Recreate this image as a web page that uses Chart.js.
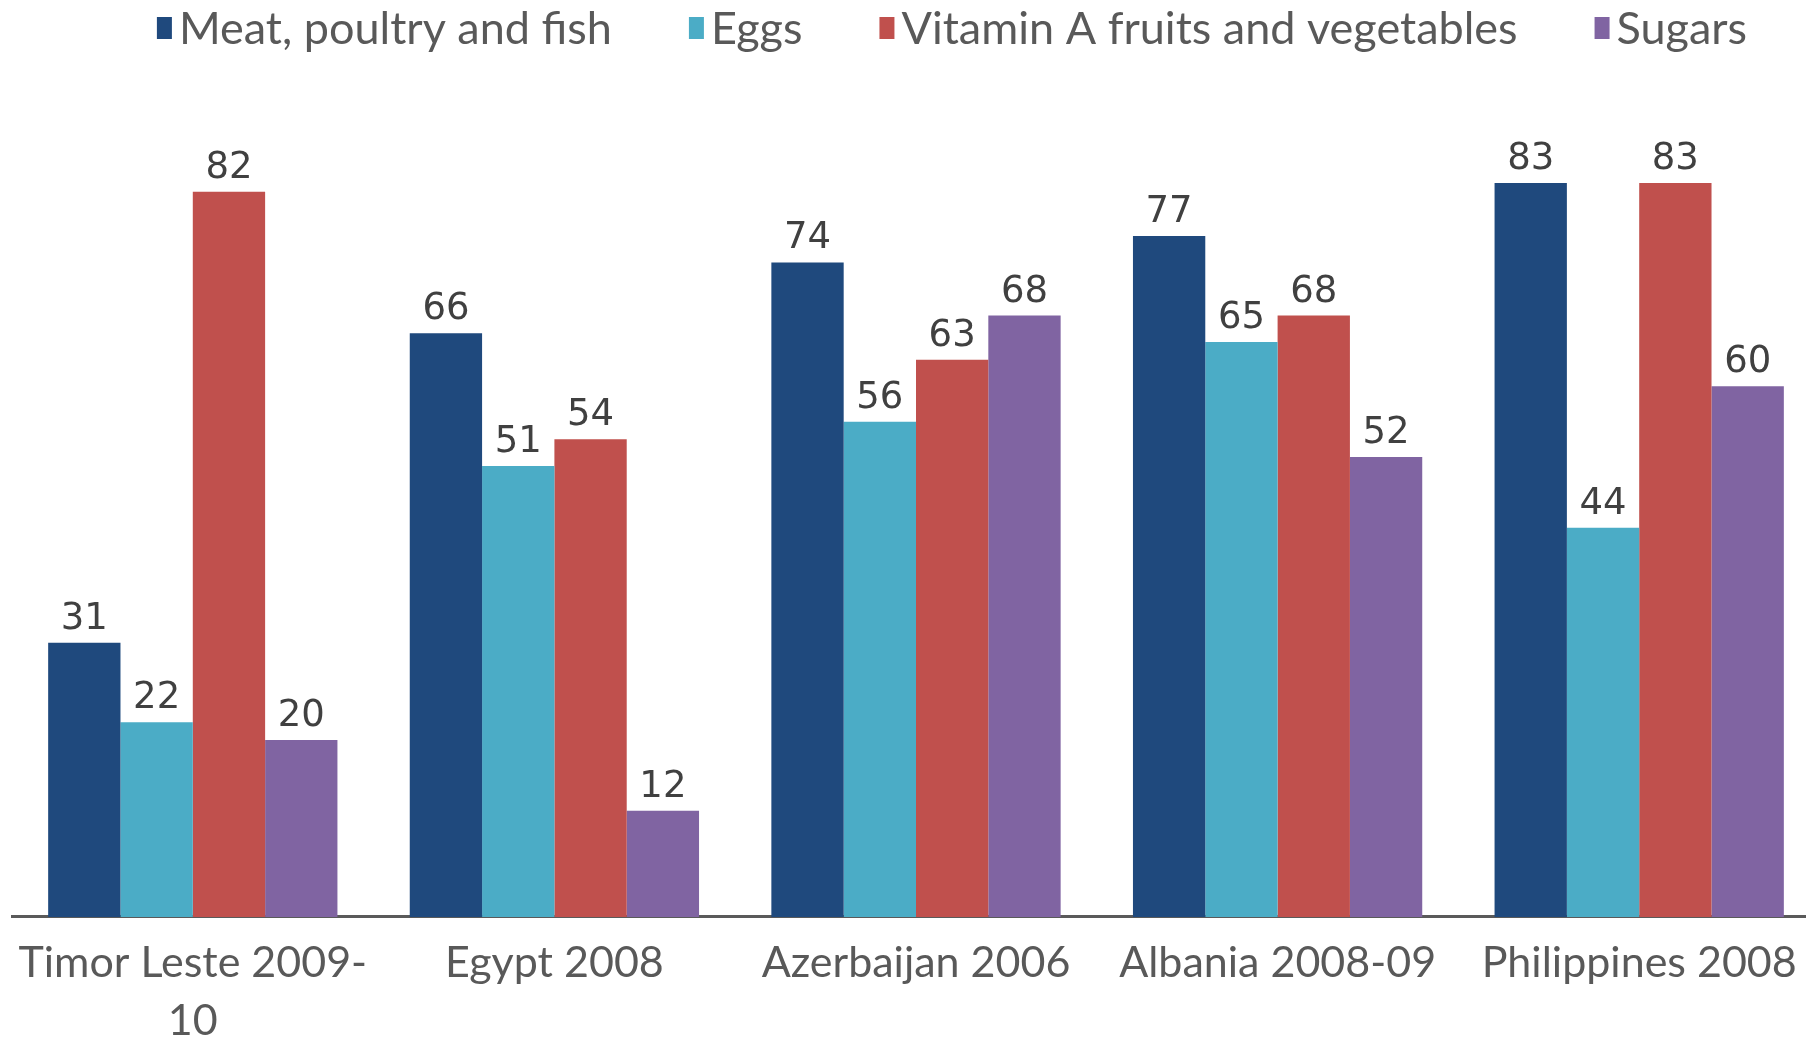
<!DOCTYPE html>
<html>
<head>
<meta charset="utf-8">
<script src="https://cdn.jsdelivr.net/npm/chart.js@4/dist/chart.umd.min.js"></script>
<style>
  html, body { margin: 0; padding: 0; background: #fff; overflow: hidden; }
</style>
</head>
<body>
<canvas id="bar-chart" width="1820" height="1067"></canvas>
<script>
const countries = [['Timor Leste 2009-', '10'], 'Egypt 2008', 'Azerbaijan 2006', 'Albania 2008-09', 'Philippines 2008']
const seriesNames = ['Meat, poultry and fish', 'Eggs', 'Vitamin A fruits and vegetables', 'Sugars']
const meat = [31, 66, 74, 77, 83]
const eggs = [22, 51, 56, 65, 44]
const vitaminA = [82, 54, 63, 68, 83]
const sugars = [20, 12, 68, 52, 60]
const colors = ['#1F497D', '#4BACC6', '#C0504D', '#8064A2']

const textColor = '#595959'
const labelFont = 'Lato'

// legend drawn by hand so the box-to-text gap matches the original
const topLegend = {
  id: 'topLegend',
  afterDraw (chart) {
    const ctx = chart.ctx
    const boxW = 15
    const boxH = 22
    const gap = 7
    const spacing = 77
    const centerX = 952
    const y = 28
    ctx.save()
    ctx.font = `45px ${labelFont}`
    ctx.textBaseline = 'middle'
    const items = chart.data.datasets.map(d => ({
      label: d.label,
      color: d.backgroundColor,
      width: boxW + gap + ctx.measureText(d.label).width
    }))
    const total = items.reduce((s, it) => s + it.width, 0) + spacing * (items.length - 1)
    let x = centerX - total / 2
    items.forEach(it => {
      ctx.fillStyle = it.color
      ctx.fillRect(x, y - boxH / 2, boxW, boxH)
      ctx.fillStyle = textColor
      ctx.fillText(it.label, x + boxW + gap, y + 1)
      x += it.width + spacing
    })
    ctx.restore()
  }
}

// value labels above each bar
const valueLabels = {
  id: 'valueLabels',
  afterDatasetsDraw (chart) {
    const ctx = chart.ctx
    ctx.save()
    ctx.font = '37px "DejaVu Sans"'
    ctx.fillStyle = '#404040'
    ctx.textAlign = 'center'
    ctx.textBaseline = 'alphabetic'
    chart.data.datasets.forEach((ds, i) => {
      chart.getDatasetMeta(i).data.forEach((bar, j) => {
        ctx.fillText(String(ds.data[j]), bar.x, bar.y - 14)
      })
    })
    ctx.restore()
  }
}

const seriesData = [meat, eggs, vitaminA, sugars]

// eslint-disable-next-line no-unused-vars, no-undef
const chart = new Chart(document.querySelector('#bar-chart'), {
  type: 'bar',
  data: {
    labels: countries,
    datasets: seriesNames.map((name, i) => ({
      label: name,
      data: seriesData[i],
      backgroundColor: colors[i],
      borderWidth: 0
    }))
  },
  options: {
    responsive: false,
    animation: false,
    devicePixelRatio: 1,
    categoryPercentage: 0.8,
    barPercentage: 1,
    layout: { padding: { top: 121, left: 12, right: 0, bottom: 0 } },
    scales: {
      x: {
        grid: { display: false, drawTicks: false },
        border: { display: true, color: '#5a5a5a', width: 3 },
        ticks: {
          color: textColor,
          font: { family: labelFont, size: 43, lineHeight: 1.35 },
          padding: 17,
          maxRotation: 0,
          autoSkip: false
        }
      },
      y: {
        display: false,
        min: 0,
        max: 90
      }
    },
    plugins: {
      legend: { display: false },
      tooltip: { enabled: false }
    }
  },
  plugins: [topLegend, valueLabels]
})
</script>
</body>
</html>
